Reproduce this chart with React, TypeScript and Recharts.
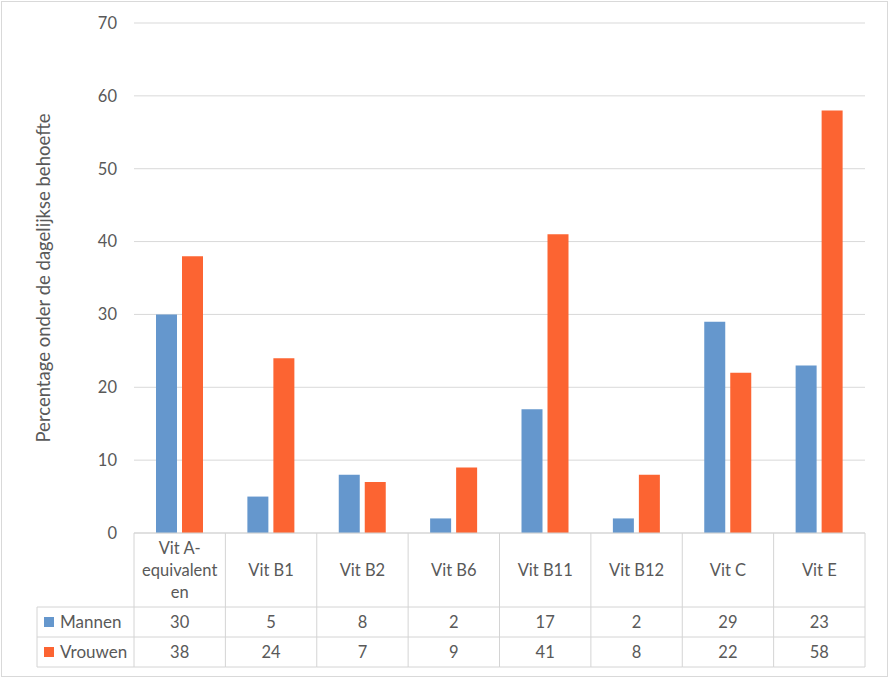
import { BarChart, Bar, XAxis, YAxis, CartesianGrid } from "recharts";

const categories = ["Vit A-equivalenten", "Vit B1", "Vit B2", "Vit B6", "Vit B11", "Vit B12", "Vit C", "Vit E"];
const mannen = [30, 5, 8, 2, 17, 2, 29, 23];
const vrouwen = [38, 24, 7, 9, 41, 8, 22, 58];
const yTicks = [0, 10, 20, 30, 40, 50, 60, 70];
const seriesNames = ["Mannen", "Vrouwen"];

const W = 890;
const H = 678;
const LEFT = 134;
const RIGHT = 25;
const BOTTOM = 533;
const BAND = (W - LEFT - RIGHT) / categories.length;
const BLUE = "#6597CD";
const ORANGE = "#FC6432";
const LINE = "#D4D4D4";
const TEXT = "#595959";
const FONT = "Lato, 'Open Sans', sans-serif";

const data = categories.map((c, i) => ({ name: c, mannen: mannen[i], vrouwen: vrouwen[i] }));

// Excel-achtige tekstomloop: max ~10 tekens per regel
function wrap(label: string, max = 10): string[] {
  const tokens = label.split(/(?<=-)|\s+/).filter(Boolean);
  const lines: string[] = [];
  let cur = "";
  for (const t of tokens) {
    const next = cur ? (cur.endsWith("-") ? cur + t : cur + " " + t) : t;
    if (next.length <= max) { cur = next; continue; }
    if (cur) lines.push(cur);
    let rest = t;
    while (rest.length > max) { lines.push(rest.slice(0, max)); rest = rest.slice(max); }
    cur = rest;
  }
  if (cur) lines.push(cur);
  return lines;
}

function TableTick(props: any) {
  const { x, index } = props;
  const i = index as number;
  const l = x - BAND / 2;
  const r = x + BAND / 2;
  const lines = wrap(categories[i]);
  const mid = 570;
  const rows = [607, 637, 667];
  return (
    <g fontFamily={FONT} fontSize={16.5} fill={TEXT}>
      <line x1={l} x2={l} y1={BOTTOM} y2={667} stroke={LINE} />
      {i === categories.length - 1 && <line x1={r} x2={r} y1={BOTTOM} y2={667} stroke={LINE} />}
      {rows.map(y => <line key={y} x1={l} x2={r} y1={y} y2={y} stroke={LINE} />)}
      {lines.map((t, k) => (
        <text key={k} x={x} y={mid + (k - (lines.length - 1) / 2) * 22 + 6} textAnchor="middle" fill={TEXT}>{t}</text>
      ))}
      <text x={x} y={628} textAnchor="middle" fill={TEXT}>{mannen[i]}</text>
      <text x={x} y={658} textAnchor="middle" fill={TEXT}>{vrouwen[i]}</text>
      {i === 0 && (
        <g>
          {rows.map(y => <line key={y} x1={37} x2={l} y1={y} y2={y} stroke={LINE} />)}
          <line x1={37} x2={37} y1={607} y2={667} stroke={LINE} />
          <rect x={44} y={617} width={10} height={10} fill={BLUE} />
          <rect x={44} y={647} width={10} height={10} fill={ORANGE} />
          <text x={60} y={628} fill={TEXT} fontSize={17}>{seriesNames[0]}</text>
          <text x={60} y={658} fill={TEXT} fontSize={17}>{seriesNames[1]}</text>
        </g>
      )}
    </g>
  );
}

export default function App() {
  return (
    <div style={{ position: "absolute", left: 0, top: 0, width: W, height: H, background: "#fff" }}>
      <style>{`body{margin:0}`}</style>
      <div style={{ position: "absolute", left: 1, top: 1, width: 885, height: 674, border: "1px solid #D9D9D9" }} />
      <div style={{ position: "absolute", left: 0, top: 0 }}>
        <BarChart
          width={W}
          height={H}
          data={data}
          margin={{ top: 23, right: RIGHT, bottom: 0, left: 0 }}
          barSize={21}
          barGap={5}
        >
          <CartesianGrid vertical={false} stroke="#D9D9D9" />
          <XAxis
            dataKey="name"
            height={H - BOTTOM}
            interval={0}
            tickLine={false}
            axisLine={{ stroke: LINE }}
            tick={<TableTick />}
          />
          <YAxis
            width={LEFT}
            domain={[0, 70]}
            ticks={yTicks}
            axisLine={false}
            tickLine={false}
            tickMargin={11}
            tick={{ fill: TEXT, fontSize: 16.5, fontFamily: FONT }}
            label={{
              content: () => (
                <text
                  x={43}
                  y={278}
                  transform="rotate(-90 43 278)"
                  textAnchor="middle"
                  dominantBaseline="central"
                  fill={TEXT}
                  fontSize={18.5}
                  fontFamily={FONT}
                >
                  Percentage onder de dagelijkse behoefte
                </text>
              ),
            }}
          />
          <Bar dataKey="mannen" name={seriesNames[0]} fill={BLUE} isAnimationActive={false} />
          <Bar dataKey="vrouwen" name={seriesNames[1]} fill={ORANGE} isAnimationActive={false} />
        </BarChart>
      </div>
    </div>
  );
}
